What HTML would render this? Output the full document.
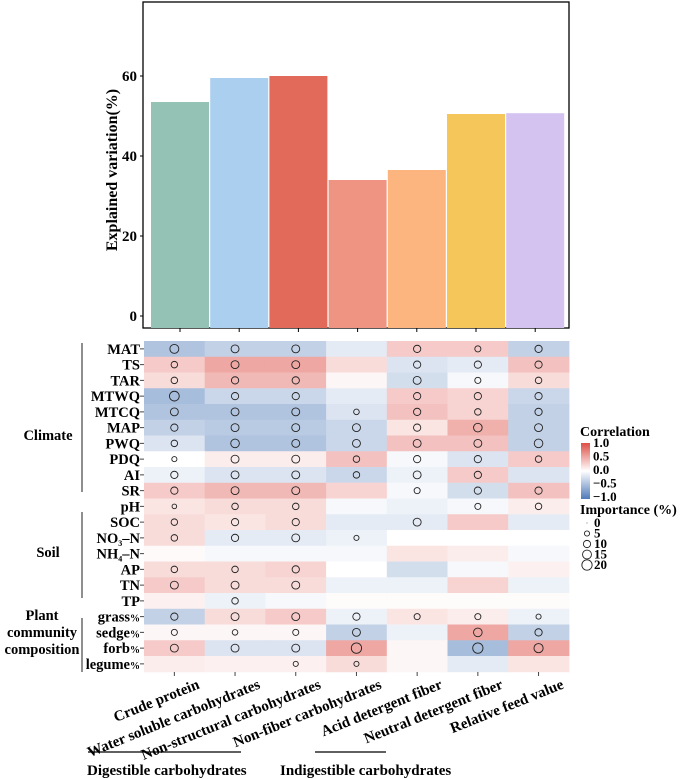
<!DOCTYPE html>
<html><head><meta charset="utf-8"><style>
html,body{margin:0;padding:0;background:#fff;}
svg{display:block;font-family:"Liberation Serif",serif;font-weight:bold;}
</style></head><body>
<svg id="c" width="685" height="779" viewBox="0 0 685 779"></svg>
<script>
const categories=["Crude protein","Water soluble carbohydrates","Non-structural carbohydrates","Non-fiber carbohydrates","Acid detergent fiber","Neutral detergent fiber","Relative feed value"];
const barValues=[53.5,59.5,60,34,36.5,50.5,50.7];
const barColors=["#94c3b6","#abcfef","#e16a5a","#ef9483","#fdb57f","#f5c75b","#d4c2f1"];
const yTicks=[0,20,40,60];
const rowLabels=["MAT","TS","TAR","MTWQ","MTCQ","MAP","PWQ","PDQ","AI","SR","pH","SOC","NO3-N","NH4-N","AP","TN","TP","grass","sedge","forb","legume"];
const corr=[
[-0.45,-0.35,-0.35,-0.15,0.3,0.3,-0.35],
[0.3,0.5,0.5,0.2,-0.2,-0.15,0.35],
[0.2,0.4,0.4,0.05,-0.25,-0.05,0.2],
[-0.5,-0.3,-0.3,-0.15,0.3,0.25,-0.3],
[-0.45,-0.45,-0.45,-0.2,0.35,0.25,-0.35],
[-0.35,-0.4,-0.4,-0.3,0.15,0.45,-0.35],
[-0.2,-0.45,-0.45,-0.3,0.35,0.35,-0.35],
[0.0,0.1,0.1,0.35,-0.05,-0.2,0.3],
[-0.1,-0.2,-0.2,-0.3,-0.1,0.3,-0.2],
[0.3,0.4,0.4,0.25,-0.05,-0.25,0.35],
[0.15,0.2,0.2,-0.05,-0.1,-0.05,0.1],
[0.2,0.15,0.2,-0.15,-0.15,0.3,-0.15],
[0.2,-0.15,-0.15,-0.1,0.0,0.0,0.0],
[0.03,-0.05,-0.05,-0.05,0.15,0.1,-0.05],
[0.2,0.2,0.25,0.0,-0.25,-0.05,0.08],
[0.3,0.2,0.2,-0.1,-0.1,0.25,-0.1],
[0.08,-0.1,-0.05,0.02,0.02,0.02,0.02],
[-0.35,0.2,0.3,-0.1,0.15,0.1,-0.1],
[0.05,0.05,0.05,-0.35,-0.1,0.5,-0.35],
[0.3,-0.2,-0.2,0.5,0.05,-0.5,0.5],
[0.1,0.08,0.08,0.2,0.05,-0.15,0.15]];
const importance=[
[15,12,12,0,10,7,10],
[8,12,12,0,10,10,10],
[8,10,10,0,12,7,8],
[18,10,10,0,10,10,10],
[12,12,12,6,10,8,10],
[10,12,12,12,10,14,12],
[8,14,12,12,12,12,14],
[5,12,12,8,10,10,8],
[10,12,12,8,12,10,0],
[10,12,12,0,7,10,10],
[4,8,8,0,0,7,8],
[8,10,10,0,12,0,0],
[8,10,12,5,0,0,0],
[0,0,0,0,0,0,0],
[8,8,10,0,0,0,0],
[12,12,12,0,0,0,0],
[0,8,0,0,0,0,0],
[10,12,12,10,7,7,5],
[7,6,7,12,0,14,10],
[12,12,12,20,0,20,16],
[0,0,5,5,0,0,0]];
const corrTicks=["1.0","0.5","0.0","\u22120.5","\u22121.0"];
const sizeTicks=[0,5,10,15,20];

const NS="http://www.w3.org/2000/svg";
const svg=document.getElementById('c');
function mk(tag,attrs,parent,text){const e=document.createElementNS(NS,tag);for(const k in attrs)e.setAttribute(k,attrs[k]);if(text!==undefined)e.textContent=text;(parent||svg).appendChild(e);return e;}

// bar chart
const bx0=143,bx1=569,by0=2,by1=328;
const yS=v=>316-v*4;
const bxS=i=>180+i*59.2;
const frame=mk('rect',{x:bx0,y:by0,width:bx1-bx0,height:by1-by0,fill:'none',stroke:'#000','stroke-width':1.3});

barValues.forEach((v,i)=>{
 const r=mk('rect',{x:bxS(i)-29,y:yS(v),width:58,height:yS(0)-yS(v)+12,fill:barColors[i]});
 
 mk('line',{x1:bxS(i),x2:bxS(i),y1:by1,y2:by1+4,stroke:'#000'});
});
yTicks.forEach(t=>{
 const tx=mk('text',{x:137,y:yS(t)+5,'text-anchor':'end','font-size':15},svg,String(t));
 
 mk('line',{x1:bx0-3,x2:bx0,y1:yS(t),y2:yS(t),stroke:'#000'});
});
const yt=mk('text',{x:0,y:0,transform:'translate(117,170) rotate(-90)','text-anchor':'middle','font-size':16},svg,'Explained variation(%)');


// heatmap
const hx0=144,cw=60.7,hy0=341,rh=15.75;
function col(v){
 let b,t;
 if(v>=0){b=[215,48,39];t=v*0.85;}else{b=[49,99,172];t=-v*0.85;}
 return 'rgb('+b.map(x=>Math.round(255+(x-255)*t)).join(',')+')';
}
const rS=v=>v<=0?0:Math.sqrt(v)*1.15;
corr.forEach((row,r)=>{
 row.forEach((v,c)=>{
  const cell=mk('rect',{x:hx0+c*cw,y:hy0+r*rh,width:cw+0.5,height:rh+0.5,fill:col(v)});
  
  const im=importance[r][c];
  if(im>0){const ci=mk('circle',{cx:hx0+c*cw+cw/2,cy:hy0+r*rh+rh/2,r:rS(im),fill:'none',stroke:'#222','stroke-width':0.9});
   }
 });
 const y=hy0+r*rh+rh/2;
 const lab=rowLabels[r];
 let tx;
 if(lab==='NO3-N'){tx=mk('text',{x:140,y:y+5,'text-anchor':'end','font-size':14.5},svg);tx.innerHTML='NO<tspan font-size="8" dy="3">3</tspan><tspan dy="-3">\u2013N</tspan>';}
 else if(lab==='NH4-N'){tx=mk('text',{x:140,y:y+5,'text-anchor':'end','font-size':14.5},svg);tx.innerHTML='NH<tspan font-size="8" dy="3">4</tspan><tspan dy="-3">\u2013N</tspan>';}
 else if(r>=17){tx=mk('text',{x:140,y:y+5,'text-anchor':'end','font-size':14.5},svg);tx.innerHTML=lab+'<tspan font-size="10">%</tspan>';}
 else tx=mk('text',{x:140,y:y+5,'text-anchor':'end','font-size':14.5},svg,lab);
 
 mk('line',{x1:140,x2:144,y1:y,y2:y,stroke:'#444'});
});
categories.forEach((c,i)=>{
 const x=hx0+i*cw+cw/2;
 mk('line',{x1:x,x2:x,y1:672,y2:676,stroke:'#444'});
 const t=mk('text',{x:0,y:0,transform:'translate('+(x+26)+',688) rotate(-22)','text-anchor':'end','font-size':15},svg,c);
 
});
// groups
[[343,492,'Climate',440],[512,598,'Soil',557]].forEach(g=>{
 mk('line',{x1:82,x2:82,y1:g[0],y2:g[1],stroke:'#444','stroke-width':1.2});
 const t=mk('text',{x:48,y:g[3],'text-anchor':'middle','font-size':14.5},svg,g[2]);
 
});
mk('line',{x1:82,x2:82,y1:618,y2:672,stroke:'#444','stroke-width':1.2});
const pl=mk('text',{x:42,y:620,'text-anchor':'middle','font-size':14.5},svg);
pl.innerHTML='<tspan x="42" dy="0">Plant</tspan><tspan x="42" dy="17">community</tspan><tspan x="42" dy="17">composition</tspan>';

// bottom groups
mk('line',{x1:88,x2:241,y1:752,y2:752,stroke:'#000','stroke-width':1.2});
const d1=mk('text',{x:87,y:775,'font-size':15},svg,'Digestible carbohydrates');

mk('line',{x1:315,x2:386,y1:752,y2:752,stroke:'#000','stroke-width':1.2});
const d2=mk('text',{x:280,y:775,'font-size':15},svg,'Indigestible carbohydrates');


// legend
const lt=mk('text',{x:580,y:436,'font-size':14},svg,'Correlation');

const defs=mk('defs',{});
const gr=mk('linearGradient',{id:'cg',x1:0,y1:0,x2:0,y2:1},defs);
[[0,col(1)],[0.25,col(0.5)],[0.5,'#fff'],[0.75,col(-0.5)],[1,col(-1)]].forEach(s=>mk('stop',{offset:s[0],'stop-color':s[1]},gr));
const cb=mk('rect',{x:581,y:443,width:9,height:56,fill:'url(#cg)'});

corrTicks.forEach((t,i)=>{mk('text',{x:593,y:447+i*13.5,'font-size':13},svg,t);});
const it=mk('text',{x:580,y:514,'font-size':14},svg,'Importance (%)');

sizeTicks.forEach((s,i)=>{
 const y=523+i*10.5;
 if(s>0)mk('circle',{cx:587,cy:y,r:rS(s),fill:'none',stroke:'#222','stroke-width':0.9});
 else mk('circle',{cx:587,cy:y,r:0.6,fill:'#888'});
 mk('text',{x:594,y:y+4,'font-size':13},svg,String(s));
});
</script>
</body></html>
